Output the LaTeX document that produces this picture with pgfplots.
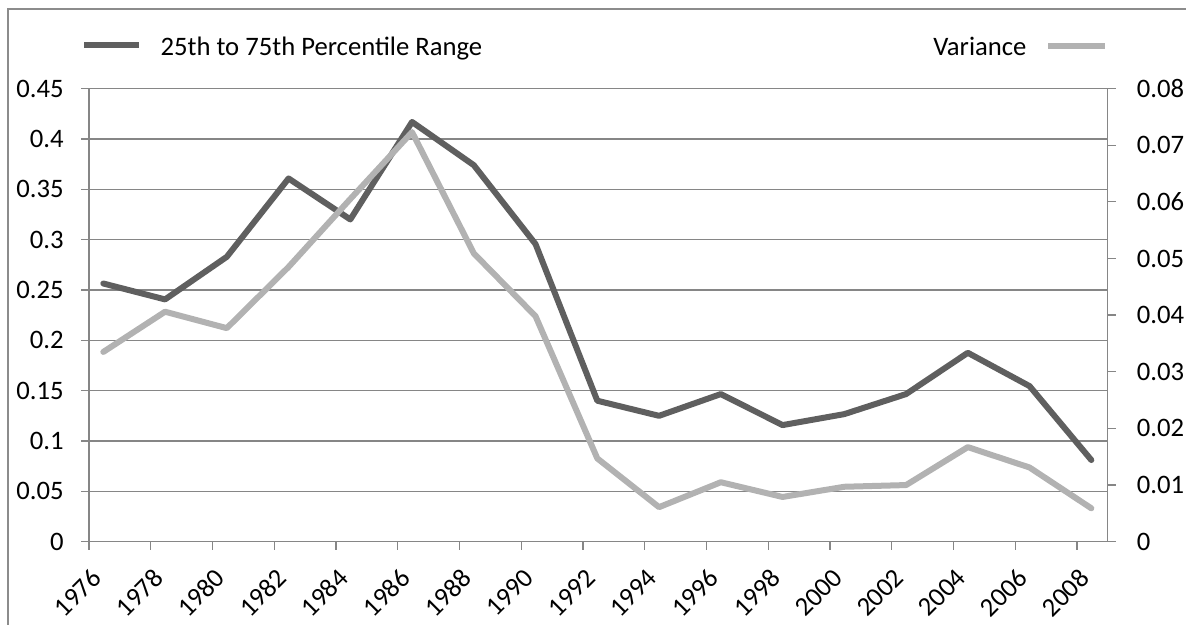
\documentclass[border=0pt]{standalone}
\usepackage{fontspec}
\setmainfont{Carlito}
\usepackage{pgfplots}
\pgfplotsset{compat=1.18}
\definecolor{darkline}{HTML}{5F5F5F}
\definecolor{lightline}{HTML}{B2B2B2}
\definecolor{gridgray}{HTML}{868686}
\definecolor{framegray}{HTML}{8C8C8C}

\pgfplotstableread{
k dark light
0 0.2564 0.0335
1 0.2406 0.0406
2 0.2829 0.0377
3 0.3607 0.0485
4 0.3200 0.0605
5 0.4168 0.0723
6 0.3739 0.0509
7 0.2955 0.0398
8 0.1400 0.0147
9 0.1250 0.0061
10 0.1466 0.0105
11 0.1158 0.0079
12 0.1267 0.0097
13 0.1466 0.0100
14 0.1876 0.0167
15 0.1545 0.0131
16 0.0811 0.0059
}\datatable

\begin{document}
\begin{tikzpicture}[x=0.375pt,y=0.375pt]
\pgfplotsset{
  common/.style={
    scale only axis, width=381.94pt, height=169.95pt,
    at={(33.375pt,30.86pt)}, anchor=south west,
    xmin=-0.2316, xmax=16.262,
    font=\fontsize{10}{12}\selectfont,
    /pgf/number format/assume math mode=true,
    tick align=outside, major tick length=3pt, minor tick length=3pt,
    tick style={gridgray, line width=0.5pt},
    axis line style={gridgray, line width=0.5pt},
    scaled y ticks=false,
    every axis plot/.append style={line width=2.25pt, line join=round, line cap=round, mark=none},
  }
}
\begin{axis}[common,
  ymin=0, ymax=0.45,
  ytick={0,0.05,0.1,0.15,0.2,0.25,0.3,0.35,0.4,0.45},
  axis x line*=bottom, axis y line*=left,
  ymajorgrids, grid style={gridgray, line width=0.5pt},
  xtick={0,1,2,3,4,5,6,7,8,9,10,11,12,13,14,15,16},
  xticklabels={1976,1978,1980,1982,1984,1986,1988,1990,1992,1994,1996,1998,2000,2002,2004,2006,2008},
  every major x tick/.append style={draw=none},
  minor xtick={-0.2316,0.7684,1.7684,2.7684,3.7684,4.7684,5.7684,6.7684,7.7684,8.7684,9.7684,10.7684,11.7684,12.7684,13.7684,14.7684,15.7684},
  every minor x tick/.append style={gridgray, line width=0.5pt},
  xticklabel style={rotate=45, anchor=east},
  xticklabel shift=6.5pt,
  yticklabel style={/pgf/number format/fixed, /pgf/number format/precision=2, xshift=-3pt},
]
\addplot[darkline] table[x=k, y=dark] {\datatable};
\end{axis}
\begin{axis}[common,
  ymin=0, ymax=0.08,
  ytick={0,0.01,0.02,0.03,0.04,0.05,0.06,0.07,0.08},
  axis y line*=right, axis x line=none,
  yticklabel style={/pgf/number format/fixed, /pgf/number format/precision=2, xshift=4.5pt},
]
\addplot[lightline] table[x=k, y=light] {\datatable};
\end{axis}
% legend
\draw[darkline, line width=2.25pt] (84,579) -- (139,579);
\node[anchor=base west, inner sep=0pt, font=\fontsize{10}{12}\selectfont] at (160,569) {25th to 75th Percentile Range};
\node[anchor=base east, inner sep=0pt, font=\fontsize{10}{12}\selectfont] at (1027,569) {Variance};
\draw[lightline, line width=2.25pt] (1048,578.5) -- (1105,578.5);
% frame
\draw[framegray, line width=0.75pt] (7.5,-60) -- (7.5,614.7) -- (1260,614.7);
\pgfresetboundingbox
\useasboundingbox (0,0) rectangle (1186,624);
\end{tikzpicture}
\end{document}
